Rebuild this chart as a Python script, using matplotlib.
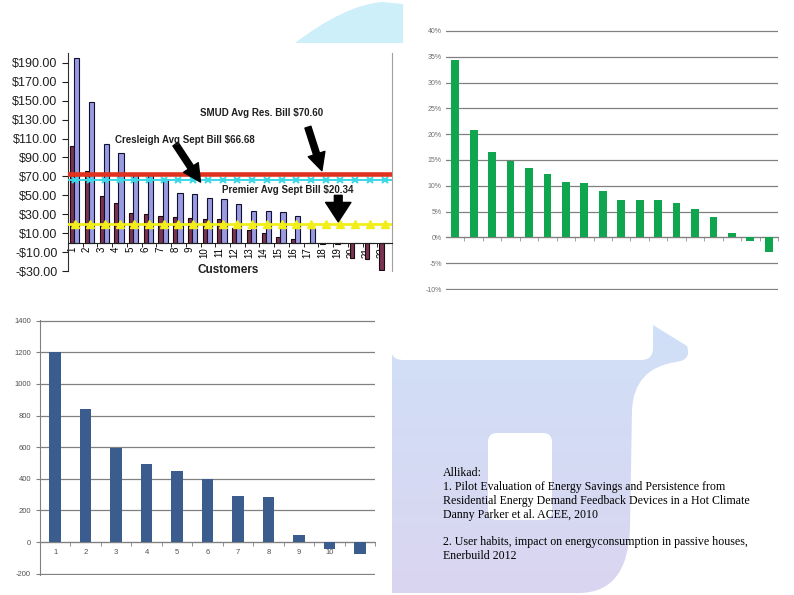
import matplotlib
matplotlib.use('Agg')
import matplotlib.pyplot as plt
import numpy as np
from matplotlib.path import Path
from matplotlib.patches import PathPatch, FancyBboxPatch

W, H = 794, 595

# ---------------- data ----------------
customers = [str(i) for i in range(1, 23)]
bill_a = [102, 75.5, 49.5, 42, 31, 30.3, 28.2, 27.5, 26, 25.2, 24.5, 15,
          13.5, 10.3, 6.3, 3.8, 0, -1, -1.5, -16.5, -17, -28.5]
bill_b = [195.5, 148.5, 104, 94.3, 74, 73, 67, 53, 51, 47.7, 46, 41,
          33.5, 33.5, 32.5, 28, 16, 0, 0, 0, 0, 0]
smud_avg = 72.8
cresleigh_avg = 66.68
premier_avg = 19.5
bill_ticks = list(range(-30, 200, 20))
ann_smud = "SMUD Avg Res. Bill $70.60"
ann_cres = "Cresleigh Avg Sept Bill $66.68"
ann_prem = "Premier Avg Sept Bill $20.34"

savings_pct = [34.4, 20.8, 16.5, 14.9, 13.4, 12.3, 10.7, 10.5, 9.0, 7.3,
               7.3, 7.3, 6.6, 5.5, 3.9, 0.9, -0.7, -2.8]
pct_ticks = list(range(-10, 41, 5))

consumption = [1200, 844, 598, 493, 448, 398, 290, 284, 44, -46, -74]
cons_labels = [str(i) for i in range(1, 12)]
cons_ticks = list(range(-200, 1401, 200))

ref_lines = [
    "Allikad:",
    "1. Pilot Evaluation of Energy Savings and Persistence from",
    "Residential Energy Demand Feedback Devices in a Hot Climate",
    "Danny Parker et al. ACEE, 2010",
    "",
    "2. User habits, impact on energyconsumption in passive houses,",
    "Enerbuild 2012",
]

plt.rcParams['font.family'] = ['Liberation Sans', 'DejaVu Sans']

fig = plt.figure(figsize=(W / 100, H / 100), dpi=100)
fig.patch.set_facecolor('white')


def px_axes(x0, y0, x1, y1, **kw):
    return fig.add_axes([x0 / W, 1 - y1 / H, (x1 - x0) / W, (y1 - y0) / H], **kw)


# ---------------- background watermark ----------------
bg = px_axes(0, 0, W, H)
bg.set_xlim(0, W)
bg.set_ylim(H, 0)
bg.axis('off')
bg.set_zorder(0)

M, L, C, Z = Path.MOVETO, Path.LINETO, Path.CURVE3, Path.CLOSEPOLY
outer = Path([(392, 593), (392, 309), (627, 309), (687, 346),
              (692, 360), (676, 362), (634, 368), (632, 410),
              (630, 528), (628, 592), (580, 593), (392, 593)],
             [M, L, L, L, C, C, C, C, L, C, C, Z])
top = np.array([207, 225, 248]) / 255.0
bot = np.array([218, 213, 240]) / 255.0
g = np.linspace(0, 1, 256)[:, None, None]
grad = top * (1 - g) + bot * g
im = bg.imshow(grad, extent=(385, 700, 595, 305), aspect='auto',
               interpolation='bilinear', zorder=1)
im.set_clip_path(outer, transform=bg.transData)
bg.add_patch(FancyBboxPatch((391, 300), 262, 60,
                            boxstyle="round,pad=0,rounding_size=12",
                            fc='white', ec='none', zorder=2))
bg.add_patch(FancyBboxPatch((488, 433), 64, 87,
                            boxstyle="round,pad=0,rounding_size=9",
                            fc='white', ec='none', zorder=2))
cyan = Path([(295, 43), (345, 5), (382, 2), (403, 4), (403, 43), (295, 43)],
            [M, C, C, L, L, Z])
bg.add_patch(PathPatch(cyan, fc='#cdeff9', ec='none', zorder=1))

bg.text(443, 467.5, "\n".join(ref_lines), va='top', ha='left',
        family=['Liberation Serif', 'DejaVu Serif'], fontsize=8.6,
        linespacing=1.2, color='black', zorder=3)

# ---------------- top-left: bills ----------------
ax1 = px_axes(68, 53.3, 392, 271.1)
ax1.set_zorder(2)
ax1.patch.set_alpha(0)
x = np.arange(len(customers))
ax1.bar(x - 0.21, bill_a, 0.30, color='#7a3350', edgecolor='#1a0a10', lw=0.8, zorder=2)
ax1.bar(x + 0.10, bill_b, 0.36, color='#9a9ae0', edgecolor='#101030', lw=0.8, zorder=2)
ax1.axhline(smud_avg, color='#e0321e', lw=3.3, zorder=5)
ax1.axhline(cresleigh_avg, color='#3cd8e6', lw=1.4, zorder=4)
ax1.plot(x, [cresleigh_avg] * len(x), ls='none', marker='x', ms=5, mew=1.5,
         color='#3cd8e6', zorder=4)
ax1.axhline(premier_avg, color='#f2ee1a', lw=2, zorder=4)
ax1.plot(x, [premier_avg] * len(x), ls='none', marker='^', ms=6,
         color='#f2ee1a', zorder=4)
ax1.set_xlim(-0.5, len(x) - 0.5)
ax1.set_ylim(-30, 200)
ax1.spines['top'].set_visible(False)
ax1.spines['right'].set_color('#a0a0a0')
ax1.spines['left'].set_color('#303030')
ax1.spines['bottom'].set_position(('data', 0))
ax1.spines['bottom'].set_color('#202020')
ax1.set_yticks(bill_ticks)
ax1.set_yticklabels([("-$%.2f" % abs(v)) if v < 0 else ("$%.2f" % v) for v in bill_ticks])
ax1.tick_params(axis='y', direction='out', length=4, labelsize=9, colors='#202020')
ax1.set_xticks(x - 0.22)
ax1.set_xticklabels(customers, rotation=90, fontsize=7)
ax1.tick_params(axis='x', which='major', length=0, pad=3)
ax1.set_xticks(x + 0.5, minor=True)
ax1.tick_params(axis='x', which='minor', direction='out', length=3)
fig.text(228 / W, 1 - 270 / H, "Customers", ha='center', va='center',
         fontsize=8.5, fontweight='bold', color='#202020')

arrow = dict(arrowstyle='simple,head_width=0.9,head_length=0.9,tail_width=0.32',
             color='black', mutation_scale=14, shrinkA=0, shrinkB=0)
ax1.annotate('', xy=(16.74, 76), xytext=(15.79, 122), arrowprops=arrow, zorder=6)
ax1.annotate('', xy=(8.5, 64), xytext=(6.8, 104), arrowprops=arrow, zorder=6)
ax1.annotate('', xy=(17.85, 22), xytext=(17.85, 50),
             arrowprops=dict(arrowstyle='simple,head_width=1.3,head_length=1.0,tail_width=0.4',
                             color='black', mutation_scale=14, shrinkA=0, shrinkB=0), zorder=6)
ax1.text(12.67, 137, ann_smud, ha='center', va='center', fontsize=7,
         fontweight='bold', color='#202020', zorder=6)
ax1.text(7.44, 108.5, ann_cres, ha='center', va='center', fontsize=7,
         fontweight='bold', color='#202020', zorder=6)
ax1.text(14.4, 55.6, ann_prem, ha='center', va='center', fontsize=7,
         fontweight='bold', color='#202020', zorder=6)

# ---------------- top-right: savings ----------------
ax2 = px_axes(446, 30, 778, 290)
ax2.set_zorder(2)
ax2.patch.set_alpha(0)
x2 = np.arange(len(savings_pct))
ax2.bar(x2, savings_pct, 0.42, color='#10a64f', zorder=3)
ax2.set_xlim(-0.5, len(x2) - 0.5)
ax2.set_ylim(-10.19, 40.19)
ax2.set_yticks(pct_ticks)
ax2.set_yticklabels(["%d%%" % v for v in pct_ticks])
ax2.yaxis.grid(True, color='#808080', lw=0.9)
ax2.set_axisbelow(True)
for s in ['top', 'right', 'left']:
    ax2.spines[s].set_visible(False)
ax2.spines['bottom'].set_position(('data', 0))
ax2.spines['bottom'].set_color('#808080')
ax2.tick_params(axis='y', length=0, pad=3, labelsize=5, colors='#707070')
ax2.set_xticks([])
ax2.set_xticks(x2 + 0.5, minor=True)
ax2.tick_params(axis='x', which='minor', direction='out', length=3, color='#909090')

# ---------------- bottom-left: consumption ----------------
ax3 = px_axes(40, 319.7, 375, 574.7)
ax3.set_zorder(2)
ax3.patch.set_alpha(0)
x3 = np.arange(len(consumption))
ax3.bar(x3, consumption, 0.38, color='#3a5d8e', zorder=3)
ax3.set_xlim(-0.5, len(x3) - 0.5)
ax3.set_ylim(-206.3, 1406.3)
ax3.set_yticks(cons_ticks)
ax3.set_yticklabels([str(v) for v in cons_ticks])
ax3.yaxis.grid(True, color='#808080', lw=0.9)
ax3.set_axisbelow(True)
for s in ['top', 'right']:
    ax3.spines[s].set_visible(False)
ax3.spines['left'].set_color('#808080')
ax3.spines['bottom'].set_position(('data', 0))
ax3.spines['bottom'].set_color('#808080')
ax3.tick_params(axis='y', direction='out', length=3, color='#808080',
                labelsize=5.5, colors='#505050')
ax3.set_xticks(x3)
ax3.set_xticklabels(cons_labels)
ax3.tick_params(axis='x', which='major', length=0, pad=5, labelsize=5.5, colors='#505050')
ax3.set_xticks(x3 + 0.5, minor=True)
ax3.tick_params(axis='x', which='minor', direction='out', length=3, color='#808080')

fig.savefig('out.png', dpi=100, facecolor='white')
